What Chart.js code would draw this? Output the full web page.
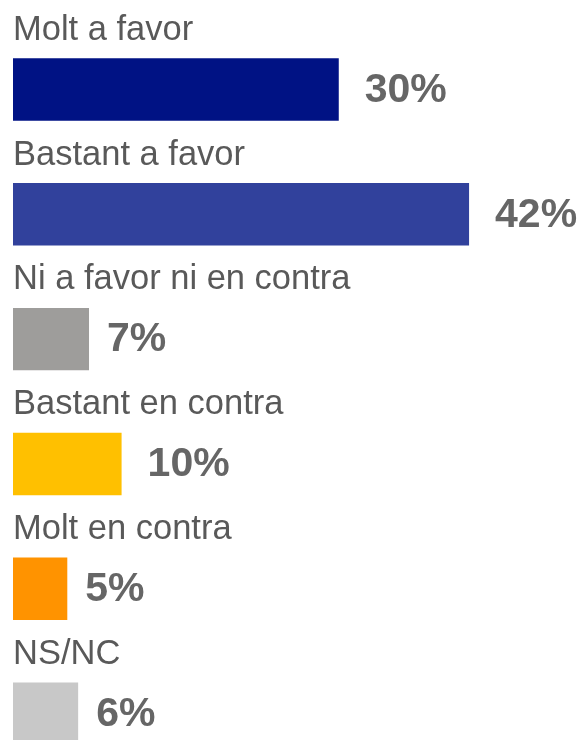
<!DOCTYPE html>
<html>
<head>
<meta charset="utf-8">
<script src="https://cdn.jsdelivr.net/npm/chart.js@4/dist/chart.umd.min.js"></script>
<style>
html,body{margin:0;padding:0;background:#fff;overflow:hidden;width:582px;height:740px;}
canvas{display:block;}
</style>
</head>
<body>
<canvas id="c" width="582" height="776"></canvas>
<script>
const categories = ["Molt a favor","Bastant a favor","Ni a favor ni en contra","Bastant en contra","Molt en contra","NS/NC"];
const values = [30, 42, 7, 10, 5, 6];
const barColors = ["#001284","#31419C","#9E9D9B","#FFC000","#FF9300","#C8C8C8"];

const labelPlugin = {
  id: 'labels',
  afterDatasetsDraw(chart) {
    const ctx = chart.ctx;
    const meta = chart.getDatasetMeta(0);
    ctx.save();
    meta.data.forEach((bar, i) => {
      const top = bar.y - bar.height / 2;
      ctx.fillStyle = '#595959';
      ctx.font = '34.5px "Liberation Sans", Arial, sans-serif';
      ctx.textAlign = 'left';
      ctx.textBaseline = 'alphabetic';
      ctx.fillText(categories[i], chart.chartArea.left, top - 18.5);
      ctx.fillStyle = '#666666';
      ctx.font = 'bold 41px "Liberation Sans", Arial, sans-serif';
      ctx.textBaseline = 'middle';
      const gap = values[i] >= 10 ? 26 : 18;
      ctx.fillText(values[i] + '%', bar.x + gap, bar.y + 1);
    });
    ctx.restore();
  }
};

new Chart(document.getElementById('c'), {
  type: 'bar',
  data: {
    labels: categories,
    datasets: [{
      data: values,
      backgroundColor: barColors,
      borderWidth: 0,
      categoryPercentage: 1,
      barPercentage: 0.5
    }]
  },
  options: {
    indexAxis: 'y',
    responsive: false,
    animation: false,
    layout: { padding: { left: 13, right: 0, top: 27, bottom: 0 } },
    plugins: { legend: { display: false }, tooltip: { enabled: false } },
    scales: {
      x: { display: false, min: 0, max: 52.4 },
      y: { display: false }
    }
  },
  plugins: [labelPlugin]
});
</script>
</body>
</html>
